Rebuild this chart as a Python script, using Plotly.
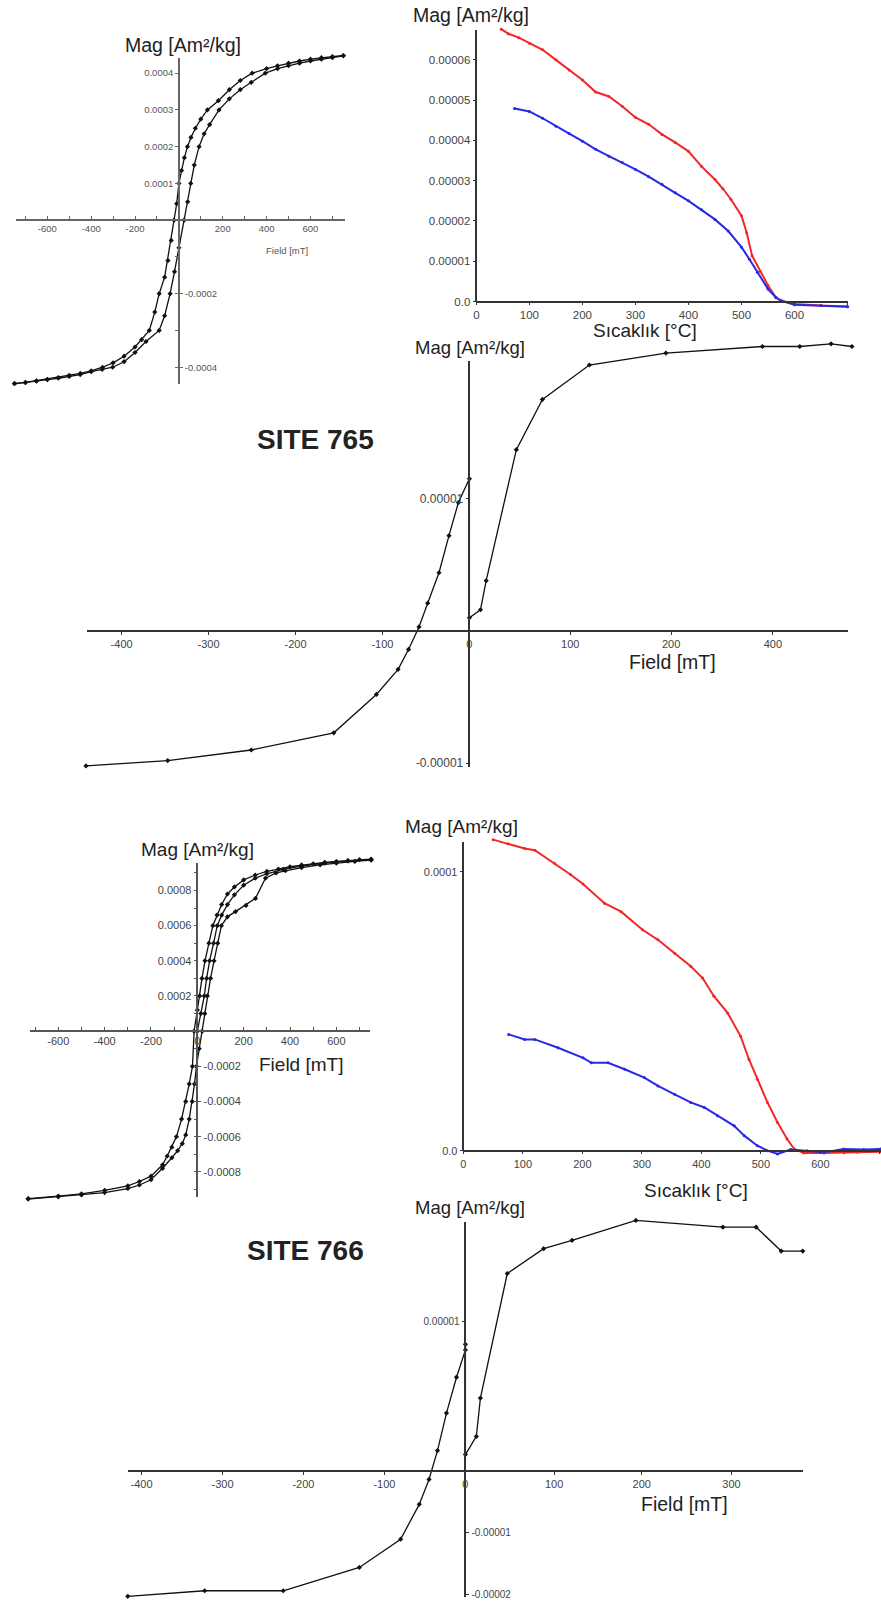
import plotly.graph_objects as go

W, H = 881, 1610
FONT = "Liberation Sans, Arial, Helvetica, sans-serif"

# ---------------- DATA ----------------
# Panel A: hysteresis, site 765 (small), M in 1e-4 Am2/kg
a_up_h = [750, 700, 650, 600, 550, 500, 450, 400, 334, 280, 230, 180, 130, 100, 75, 55, 39, 25, 12, 0,
          -10, -22, -35, -50, -65, -90, -110, -135, -170, -200, -250, -300, -348, -400, -450, -500, -550,
          -600, -650, -700, -750]
a_up_m = [4.48, 4.45, 4.42, 4.38, 4.33, 4.27, 4.2, 4.12, 4.0, 3.8, 3.55, 3.25, 3.0, 2.75, 2.5, 2.25, 2.0, 1.7,
          1.35, 1.0, 0.45, 0.0, -0.55, -1.1, -1.55, -2.0, -2.5, -3.0, -3.25, -3.45, -3.7, -3.88, -4.0, -4.1,
          -4.17, -4.22, -4.28, -4.33, -4.37, -4.41, -4.44]
a_lo_h = [-750, -700, -650, -600, -550, -500, -450, -400, -350, -302, -250, -200, -150, -90, -65, -40, -20, 0,
          24, 40, 54, 70, 92, 115, 140, 183, 230, 280, 330, 394, 450, 500, 550, 600, 650, 700, 750]
a_lo_m = [-4.45, -4.42, -4.38, -4.34, -4.3, -4.25, -4.2, -4.12, -4.06, -4.0, -3.85, -3.6, -3.3, -3.0, -2.6,
          -2.0, -1.4, -0.75, 0.0, 0.5, 1.0, 1.5, 2.0, 2.35, 2.6, 3.0, 3.3, 3.55, 3.75, 4.0, 4.12, 4.2, 4.27,
          4.33, 4.38, 4.42, 4.47]

# Panel B: thermomagnetic, site 765, M in 1e-5 Am2/kg
b_red_t = [47, 60, 80, 100, 125, 150, 175, 200, 225, 250, 275, 300, 325, 350, 375, 400, 425, 450, 465, 480,
           500, 510, 520, 535, 550, 565, 575, 600, 650, 700]
b_red_m = [6.76, 6.65, 6.55, 6.41, 6.25, 6.0, 5.75, 5.5, 5.2, 5.09, 4.85, 4.57, 4.4, 4.15, 3.95, 3.73, 3.35,
           3.03, 2.8, 2.54, 2.13, 1.7, 1.14, 0.75, 0.4, 0.1, 0.02, -0.06, -0.1, -0.12]
b_blue_t = [72, 100, 125, 150, 175, 200, 225, 250, 275, 300, 325, 350, 375, 400, 425, 450, 475, 500, 515, 530,
            550, 565, 575, 600, 650, 700]
b_blue_m = [4.79, 4.72, 4.55, 4.35, 4.17, 3.98, 3.78, 3.61, 3.45, 3.28, 3.1, 2.91, 2.7, 2.5, 2.28, 2.04, 1.75,
            1.35, 1.05, 0.73, 0.31, 0.1, 0.02, -0.08, -0.1, -0.13]

# Panel C: hysteresis, site 765 (large), M in 1e-5 Am2/kg
c_h = [-441, -347, -251, -156, -107, -82, -70, -58, -48, -35, -23.5, -12.7, 0, 0, 12.7, 19.3, 54, 84, 138,
       226, 337, 380, 416, 440]
c_m = [-1.02, -0.98, -0.90, -0.77, -0.48, -0.29, -0.14, 0.03, 0.21, 0.44, 0.72, 0.97, 1.15, 0.10, 0.16, 0.38,
       1.37, 1.75, 2.01, 2.10, 2.15, 2.15, 2.17, 2.15]
c_xtick_pos = [-400, -300, -200, -100, 0, 116, 232, 349]
c_xtick_txt = ["-400", "-300", "-200", "-100", "0", "100", "200", "400"]

# Panel D: hysteresis, site 766 (small), M in 1e-4 Am2/kg
d_up_h = [750, 700, 650, 600, 550, 500, 450, 400, 350, 300, 250, 200, 160, 130, 105, 85, 67, 50, 33, 20, 10, 0,
          -14, -21, -35, -50, -68, -90, -110, -130, -150, -200, -250, -300, -400, -500, -600, -730]
d_up_m = [9.78, 9.75, 9.7, 9.65, 9.6, 9.52, 9.45, 9.35, 9.22, 9.08, 8.88, 8.6, 8.2, 7.8, 7.2, 6.6, 6.0, 5.0, 4.0,
          3.0, 2.0, 1.2, 0.0, -2.0, -3.0, -4.0, -5.0, -6.0, -6.6, -7.1, -7.6, -8.25, -8.55, -8.8, -9.05, -9.25,
          -9.38, -9.52]
d_lo_h = [-730, -600, -500, -400, -300, -250, -200, -150, -110, -85, -65, -50, -35, -22, -12, -4, 8, 21, 32, 43,
          57, 72, 88, 104, 130, 165, 210, 251, 294, 340, 380, 450, 530, 600, 680, 750]
d_lo_m = [-9.55, -9.42, -9.32, -9.18, -8.95, -8.75, -8.45, -7.8, -7.2, -6.8, -6.4, -5.9, -5.0, -4.0, -3.0, -2.0,
          -1.0, 0.0, 1.0, 2.0, 3.0, 4.0, 5.0, 6.0, 6.5, 6.8, 7.15, 7.55, 8.7, 9.0, 9.12, 9.3, 9.45, 9.55, 9.65,
          9.72]
d_vi_h = [0, 15, 30, 40, 53, 70, 86, 105, 130, 160, 200, 250, 300, 370, 450, 550, 650, 750]
d_vi_m = [0.0, 1.0, 2.0, 3.0, 4.0, 5.0, 6.0, 6.6, 7.2, 7.75, 8.3, 8.7, 8.95, 9.2, 9.38, 9.55, 9.68, 9.75]

# Panel E: thermomagnetic, site 766, M in 1e-4 Am2/kg
e_red_t = [50, 75, 103, 120, 153, 180, 201, 237, 265, 301, 327, 355, 382, 402, 421, 444, 466, 480, 494, 511,
           528, 544, 556, 572, 606, 640, 662, 700]
e_red_m = [1.115, 1.10, 1.083, 1.077, 1.03, 0.99, 0.956, 0.887, 0.857, 0.792, 0.756, 0.708, 0.661, 0.619, 0.554,
           0.494, 0.41, 0.327, 0.256, 0.173, 0.101, 0.042, 0.006, -0.008, -0.008, -0.007, -0.006, -0.004]
e_blue_t = [76, 103, 120, 159, 201, 215, 243, 271, 304, 327, 355, 382, 405, 427, 455, 472, 494, 511, 528, 550,
            578, 606, 639, 673, 701]
e_blue_m = [0.417, 0.399, 0.399, 0.369, 0.333, 0.315, 0.315, 0.292, 0.262, 0.232, 0.202, 0.173, 0.155, 0.125,
            0.089, 0.054, 0.018, 0.0, -0.012, 0.004, 0.0, -0.006, 0.006, 0.004, 0.006]

# Panel F: hysteresis, site 766 (large), M in 1e-5 Am2/kg
f_h = [-417, -322, -225, -131, -80, -57, -45, -34.5, -23.4, -11, 0, 0, 0, 13.5, 18.5, 51.7, 96.6, 131.7, 210.5,
       318, 359, 390, 416.6]
f_m = [-0.837, -0.80, -0.80, -0.644, -0.455, -0.222, -0.055, 0.138, 0.389, 0.629, 0.811, 0.849, 0.111, 0.233,
       0.489, 1.323, 1.489, 1.545, 1.678, 1.633, 1.633, 1.473, 1.473]
f_xtick_pos = [-400, -300, -200, -100, 0, 109.5, 217.8, 328.6]
f_xtick_txt = ["-400", "-300", "-200", "-100", "0", "100", "200", "300"]
f_ytick_right_pos = [-0.41e-5, -0.822e-5]
f_ytick_right_txt = ["-0.00001", "-0.00002"]

# ---------------- FIGURE ----------------
fig = go.Figure()
layout = dict(width=W, height=H, margin=dict(l=0, r=0, t=0, b=0), paper_bgcolor="white",
              plot_bgcolor="rgba(0,0,0,0)", showlegend=False, font=dict(family=FONT, color="#222"))
N = [0]


def aname(n, k):
    return f"{k}axis" if n == 1 else f"{k}axis{n}"


def aref(n, k):
    return k if n == 1 else f"{k}{n}"


def dummy(xr, yr):
    fig.add_trace(go.Scatter(x=[None], y=[None], xaxis=xr, yaxis=yr, mode="markers",
                             hoverinfo="skip", showlegend=False))


def panel(x0, y0, sx, sy, box, xline, yline, series, xt, yl, yr=None,
          tfx=9, tfy=9, lc="#333", lw=1.5, xticks="inside", tcol="#444"):
    bl, br, bt, bb = box
    N[0] += 1
    d = N[0]
    layout[aname(d, "x")] = dict(domain=[bl / W, br / W], range=[(bl - x0) / sx, (br - x0) / sx],
                                 visible=False, anchor=aref(d, "y"))
    layout[aname(d, "y")] = dict(domain=[1 - bb / H, 1 - bt / H], range=[(y0 - bb) / sy, (y0 - bt) / sy],
                                 visible=False, anchor=aref(d, "x"))
    for s in series:
        fig.add_trace(go.Scatter(x=s["x"], y=s["y"], xaxis=aref(d, "x"), yaxis=aref(d, "y"),
                                 mode=s.get("mode", "lines+markers"),
                                 line=dict(color=s["c"], width=s.get("w", 1.3)),
                                 marker=dict(color=s["c"], size=s.get("ms", 4), symbol=s.get("sym", "diamond")),
                                 hoverinfo="skip", showlegend=False))
    N[0] += 1
    e = N[0]
    xl, xr_ = xline
    yt, yb = yline
    layout[aname(e, "x")] = dict(domain=[xl / W, xr_ / W], range=[(xl - x0) / sx, (xr_ - x0) / sx],
                                 anchor="free", position=1 - y0 / H, showline=True, linecolor=lc, linewidth=lw,
                                 showgrid=False, zeroline=False, ticks=xticks, ticklen=3, tickcolor=lc,
                                 tickvals=xt[0], ticktext=xt[1], tickfont=dict(size=tfx, color=tcol, family=FONT))
    layout[aname(e, "y")] = dict(domain=[1 - yb / H, 1 - yt / H], range=[(y0 - yb) / sy, (y0 - yt) / sy],
                                 anchor="free", position=x0 / W, side="left", showline=True, linecolor=lc,
                                 linewidth=lw, showgrid=False, zeroline=False, ticks="outside", ticklen=3,
                                 tickcolor=lc, tickvals=yl[0], ticktext=yl[1],
                                 tickfont=dict(size=tfy, color=tcol, family=FONT))
    dummy(aref(e, "x"), aref(e, "y"))
    if yr is not None:
        N[0] += 1
        r = N[0]
        layout[aname(r, "y")] = dict(domain=[1 - yb / H, 1 - yt / H], range=[(y0 - yb) / sy, (y0 - yt) / sy],
                                     anchor="free", position=x0 / W, side="right", overlaying=aref(e, "y"),
                                     showline=False, showgrid=False, zeroline=False, ticks="outside", ticklen=3,
                                     tickcolor=lc, tickvals=yr[0], ticktext=yr[1],
                                     tickfont=dict(size=tfy, color=tcol, family=FONT))
        dummy(aref(e, "x"), aref(r, "y"))


def sc(vals, f):
    return [v * f for v in vals]


BLK = "#111"
RED = "#f02828"
BLU = "#2828e6"

# Panel A
a_xt = ([v for v in range(-700, 701, 100)],
        ["" if v in (-700, -500, -300, -100, 0, 100, 300, 500, 700) else str(v) for v in range(-700, 701, 100)])
a_yl = ([k * 1e-4 for k in range(-4, 5)], ["" if k <= 0 else f"0.000{k}" for k in range(-4, 5)])
a_yr = ([-2e-4, -4e-4], ["-0.0002", "-0.0004"])
panel(176.5, 221, 0.22, 369000, (4, 350, 48, 392), (13, 343), (58, 385),
      [dict(x=a_up_h, y=sc(a_up_m, 1e-4), c=BLK, ms=4), dict(x=a_lo_h, y=sc(a_lo_m, 1e-4), c=BLK, ms=4)],
      a_xt, a_yl, a_yr, tfx=9.5, tfy=9.5, lc="#666", tcol="#555")

# Panel B
b_xt = ([v for v in range(0, 701, 100)], [str(v) if v < 700 else "" for v in range(0, 701, 100)])
b_yl = ([k * 1e-5 for k in range(0, 7)], ["0.0"] + [f"0.0000{k}" for k in range(1, 7)])
panel(475, 302.7, 0.532, 4.044e6, (470, 862, 20, 312), (475, 848), (30, 302.7),
      [dict(x=b_red_t, y=sc(b_red_m, 1e-5), c=RED, w=2, ms=3, sym="circle"),
       dict(x=b_blue_t, y=sc(b_blue_m, 1e-5), c=BLU, w=2, ms=3, sym="circle")],
      b_xt, b_yl, None, tfx=11.5, tfy=11.5, xticks="outside")

# Panel C
c_yl = ([1e-5, -1e-5], ["0.00001", "-0.00001"])
panel(468, 633.3, 0.8724, 1.328e7, (70, 862, 330, 782), (84, 848), (362, 770),
      [dict(x=c_h, y=sc(c_m, 1e-5), c=BLK, w=1.3, ms=4)],
      (c_xtick_pos, c_xtick_txt), c_yl, None, tfx=11, tfy=12, xticks="outside")

# Panel D
d_xt = ([v for v in range(-700, 701, 100)],
        [str(v) if v in (-600, -400, -200, 0, 200, 400, 600) else "" for v in range(-700, 701, 100)])
d_yl = ([k * 1e-4 for k in range(-9, 10)], [f"0.000{k}" if k in (2, 4, 6, 8) else "" for k in range(-9, 10)])
d_yr = ([-2e-4, -4e-4, -6e-4, -8e-4], ["-0.0002", "-0.0004", "-0.0006", "-0.0008"])
panel(195, 1035, 0.2325, 176500, (18, 378, 852, 1210), (26.7, 368), (866.7, 1201.7),
      [dict(x=d_up_h, y=sc(d_up_m, 1e-4), c=BLK, ms=4), dict(x=d_lo_h, y=sc(d_lo_m, 1e-4), c=BLK, ms=4),
       dict(x=d_vi_h, y=sc(d_vi_m, 1e-4), c=BLK, ms=4)],
      d_xt, d_yl, d_yr, tfx=11, tfy=11, lc="#555", tcol="#444")

# Panel E
e_xt = ([v for v in range(0, 701, 100)], [str(v) if v < 700 else "" for v in range(0, 701, 100)])
e_yl = ([0, 1e-4], ["0.0", "0.0001"])
panel(462, 1155, 0.597, 2.8e6, (455, 881, 825, 1165), (462, 881), (845, 1155),
      [dict(x=e_red_t, y=sc(e_red_m, 1e-4), c=RED, w=2, ms=3, sym="circle"),
       dict(x=e_blue_t, y=sc(e_blue_m, 1e-4), c=BLU, w=2, ms=3, sym="circle")],
      e_xt, e_yl, None, tfx=11, tfy=11, xticks="outside")

# Panel F
f_yl = ([1e-5], ["0.00001"])
panel(464, 1476.7, 0.8125, 1.5e7, (110, 815, 1210, 1609), (125, 802.5), (1226.7, 1603),
      [dict(x=f_h, y=sc(f_m, 1e-5), c=BLK, w=1.3, ms=4)],
      (f_xtick_pos, f_xtick_txt), f_yl, (f_ytick_right_pos, f_ytick_right_txt), tfx=11, tfy=10,
      xticks="outside")

# ---------------- TEXT ----------------
anns = []


def ann(text, cx, cy, size, bold=False, color="#222"):
    anns.append(dict(text=f"<b>{text}</b>" if bold else text, x=cx / W, y=1 - cy / H, xref="paper",
                     yref="paper", xanchor="center", yanchor="middle", showarrow=False,
                     font=dict(size=size, color=color, family=FONT)))


MAG = "Mag [Am²/kg]"
ann(MAG, 180.5, 45, 19.5)
ann("Field [mT]", 285, 251, 9.5, color="#555")
ann(MAG, 469.5, 15, 19.5)
ann("Sıcaklık [°C]", 644.5, 332, 19)
ann(MAG, 468.5, 349, 18.5)
ann("Field [mT]", 671.5, 664, 19.5)
ann("SITE 765", 313.5, 441.5, 28, bold=True)
ann(MAG, 195.5, 853, 19)
ann("Field [mT]", 299.5, 1068, 19)
ann(MAG, 460, 830, 19)
ann("Sıcaklık [°C]", 695, 1195, 19)
ann(MAG, 469, 1211.7, 18.5)
ann("Field [mT]", 684, 1510, 19.5)
ann("SITE 766", 303.7, 1255, 28, bold=True)

layout["annotations"] = anns
fig.update_layout(**layout)
fig.write_html("out.html")
